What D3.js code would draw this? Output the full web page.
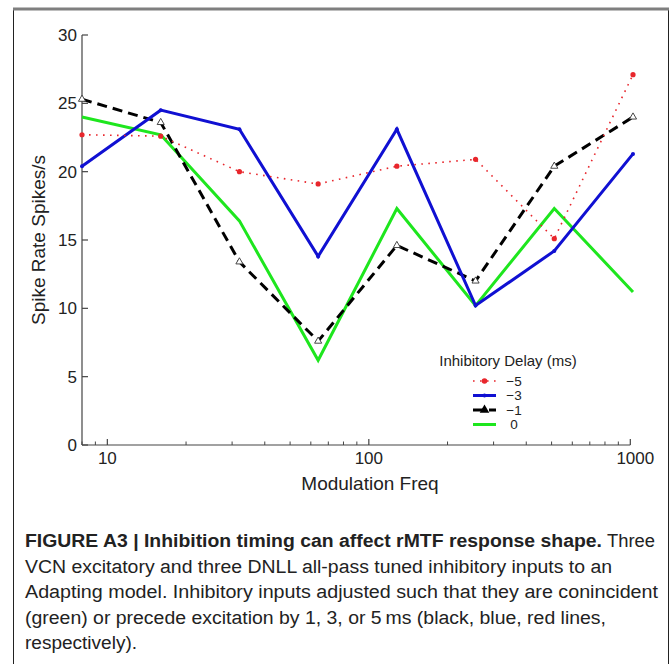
<!DOCTYPE html>
<html>
<head>
<meta charset="utf-8">
<script src="https://cdn.jsdelivr.net/npm/d3@7/dist/d3.min.js"></script>
<style>
  html, body { margin: 0; padding: 0; background: #fff; }
  svg { display: block; }
</style>
</head>
<body>
<div id="chart"></div>
<script>
// rMTF curves for four inhibitory delays
const freqs = [8, 16, 32, 64, 128, 256, 512, 1024];
const delayMinus5 = [22.7, 22.6, 20.0, 19.1, 20.4, 20.9, 15.1, 27.1];
const delayMinus3 = [20.4, 24.5, 23.1, 13.8, 23.1, 10.2, 14.2, 21.3];
const delayMinus1 = [25.3, 23.6, 13.4, 7.6, 14.6, 12.0, 20.4, 24.0];
const delayZero = [24.0, 22.7, 16.4, 6.2, 17.3, 10.2, 17.3, 11.2];
const yTicks = [0, 5, 10, 15, 20, 25, 30];
const xTicks = [10, 100, 1000];
const legendLabels = ['\u22125', '\u22123', '\u22121', '0'];

const captionBold = 'FIGURE A3 | Inhibition timing can affect rMTF response shape.';
const captionLines = [
  'Three',
  'VCN excitatory and three DNLL all-pass tuned inhibitory inputs to an',
  'Adapting model. Inhibitory inputs adjusted such that they are conincident',
  '(green) or precede excitation by 1, 3, or 5\u2009ms (black, blue, red lines,',
  'respectively).'
];

const W = 671, H = 664;
const svg = d3.select('#chart').append('svg')
  .attr('width', W).attr('height', H)
  .style('font-family', '"Liberation Sans", Arial, sans-serif');

// frame of the figure panel
svg.append('rect')
  .attr('x', 13.5).attr('y', 9.5).attr('width', 655).attr('height', 670)
  .attr('fill', 'none').attr('stroke', '#222').attr('stroke-width', 1);
svg.append('line')
  .attr('x1', 13).attr('x2', 669).attr('y1', 9).attr('y2', 9)
  .attr('stroke', '#7f7f7f').attr('stroke-width', 3);

const x = d3.scaleLog().domain([8, 1024]).range([82, 633]);
const y = d3.scaleLinear().domain([0, 30]).range([445, 35]);

const axisColor = '#444';
const g = svg.append('g');

// y axis, ticks pointing inward
g.append('line')
  .attr('x1', 82).attr('x2', 82).attr('y1', y(30)).attr('y2', y(0))
  .attr('stroke', axisColor).attr('stroke-width', 1.2);
g.selectAll('.ytick').data(yTicks).join('line')
  .attr('class', 'ytick')
  .attr('x1', 82).attr('x2', 88)
  .attr('y1', d => y(d)).attr('y2', d => y(d))
  .attr('stroke', axisColor).attr('stroke-width', 1.2);
g.selectAll('.ylab').data(yTicks).join('text')
  .attr('class', 'ylab')
  .attr('x', 77).attr('y', d => y(d) + 6)
  .attr('text-anchor', 'end')
  .attr('font-size', 17).attr('fill', '#222')
  .text(d => d);

// x axis with log minor ticks
const xEnd = x(1000);
g.append('line')
  .attr('x1', 82).attr('x2', xEnd).attr('y1', y(0)).attr('y2', y(0))
  .attr('stroke', axisColor).attr('stroke-width', 1.2);
const minor = x.ticks().filter(d => d >= 8 && d <= 1000 && !xTicks.includes(d));
g.selectAll('.xminor').data(minor).join('line')
  .attr('class', 'xminor')
  .attr('x1', d => x(d)).attr('x2', d => x(d))
  .attr('y1', y(0)).attr('y2', y(0) - 3.5)
  .attr('stroke', axisColor).attr('stroke-width', 1);
g.selectAll('.xmajor').data(xTicks).join('line')
  .attr('class', 'xmajor')
  .attr('x1', d => x(d)).attr('x2', d => x(d))
  .attr('y1', y(0)).attr('y2', y(0) - 6)
  .attr('stroke', axisColor).attr('stroke-width', 1.2);
g.selectAll('.xlab').data(xTicks).join('text')
  .attr('class', 'xlab')
  .attr('x', d => x(d) + (d === 1000 ? 5 : 0)).attr('y', 464)
  .attr('text-anchor', 'middle')
  .attr('font-size', 17).attr('fill', '#222')
  .text(d => d);

// axis titles
svg.append('text')
  .attr('x', 370).attr('y', 490)
  .attr('text-anchor', 'middle')
  .attr('font-size', 19).attr('fill', '#222')
  .text('Modulation Freq');
svg.append('text')
  .attr('transform', 'translate(45,240) rotate(-90)')
  .attr('text-anchor', 'middle')
  .attr('font-size', 19).attr('fill', '#222')
  .text('Spike Rate Spikes/s');

// series
const series = [
  { values: delayMinus5, color: '#e8262c', width: 1.6, dash: '1.6,5.4', marker: 'dot' },
  { values: delayMinus3, color: '#1010d2', width: 3, dash: null, marker: 'point' },
  { values: delayMinus1, color: '#000', width: 3, dash: '10,6', marker: 'tri' },
  { values: delayZero, color: '#1ee61e', width: 3, dash: null, marker: 'none' }
];

const line = d3.line().x(d => x(d[0])).y(d => y(d[1]));

// draw order: green at the back, then black, blue, red
[3, 2, 1, 0].forEach(i => {
  const s = series[i];
  const pts = freqs.map((f, k) => [f, s.values[k]]);
  g.append('path')
    .datum(pts)
    .attr('d', line)
    .attr('fill', 'none')
    .attr('stroke', s.color)
    .attr('stroke-width', s.width)
    .attr('stroke-linejoin', 'miter')
    .attr('stroke-dasharray', s.dash);
  drawMarkers(g, pts, s);
});

function drawMarkers(parent, pts, s) {
  if (s.marker === 'dot') {
    parent.selectAll(null).data(pts).join('circle')
      .attr('cx', d => x(d[0])).attr('cy', d => y(d[1]))
      .attr('r', 2.6).attr('fill', s.color);
  } else if (s.marker === 'point') {
    parent.selectAll(null).data(pts).join('circle')
      .attr('cx', d => x(d[0])).attr('cy', d => y(d[1]))
      .attr('r', 2).attr('fill', s.color);
  } else if (s.marker === 'tri') {
    const tri = d3.symbol().type(d3.symbolTriangle).size(22);
    parent.selectAll(null).data(pts).join('path')
      .attr('d', tri)
      .attr('transform', d => `translate(${x(d[0])},${y(d[1])})`)
      .attr('fill', '#fff')
      .attr('stroke', '#333').attr('stroke-width', 0.9);
  }
}

// legend
const legend = svg.append('g');
legend.append('text')
  .attr('x', 508).attr('y', 366)
  .attr('text-anchor', 'middle')
  .attr('font-size', 15).attr('fill', '#222')
  .text('Inhibitory Delay (ms)');
const rowY = [381, 395.5, 410, 424.5];
series.forEach((s, i) => {
  const ry = rowY[i];
  legend.append('line')
    .attr('x1', 473).attr('x2', 496).attr('y1', ry).attr('y2', ry)
    .attr('stroke', s.color).attr('stroke-width', s.width)
    .attr('stroke-dasharray', s.dash);
  const cx = 484.5;
  if (s.marker === 'dot') {
    legend.append('circle').attr('cx', cx).attr('cy', ry).attr('r', 2.8).attr('fill', s.color);
  } else if (s.marker === 'point') {
    legend.append('circle').attr('cx', cx).attr('cy', ry).attr('r', 2).attr('fill', s.color);
  } else if (s.marker === 'tri') {
    legend.append('path')
      .attr('d', d3.symbol().type(d3.symbolTriangle).size(40))
      .attr('transform', `translate(${cx},${ry})`)
      .attr('fill', '#000');
  }
  legend.append('text')
    .attr('x', 514).attr('y', ry + 4.8)
    .attr('text-anchor', 'middle')
    .attr('font-size', 13.5).attr('fill', '#222')
    .text(legendLabels[i]);
});

// caption
const cap = svg.append('g').attr('fill', '#222');
const capX = 25, capY = 547, capStep = 25.6, capSize = 18;
cap.append('text')
  .attr('x', capX).attr('y', capY)
  .attr('font-size', capSize).attr('font-weight', 'bold')
  .attr('textLength', 577).attr('lengthAdjust', 'spacingAndGlyphs')
  .text(captionBold);
cap.append('text')
  .attr('x', 607).attr('y', capY)
  .attr('font-size', capSize)
  .attr('textLength', 48).attr('lengthAdjust', 'spacingAndGlyphs')
  .text(captionLines[0]);
const capWidths = [587, 633, 581, 112];
captionLines.slice(1).forEach((t, i) => {
  cap.append('text')
    .attr('x', capX).attr('y', capY + capStep * (i + 1))
    .attr('font-size', capSize)
    .attr('textLength', capWidths[i]).attr('lengthAdjust', 'spacingAndGlyphs')
    .text(t);
});
</script>
</body>
</html>
